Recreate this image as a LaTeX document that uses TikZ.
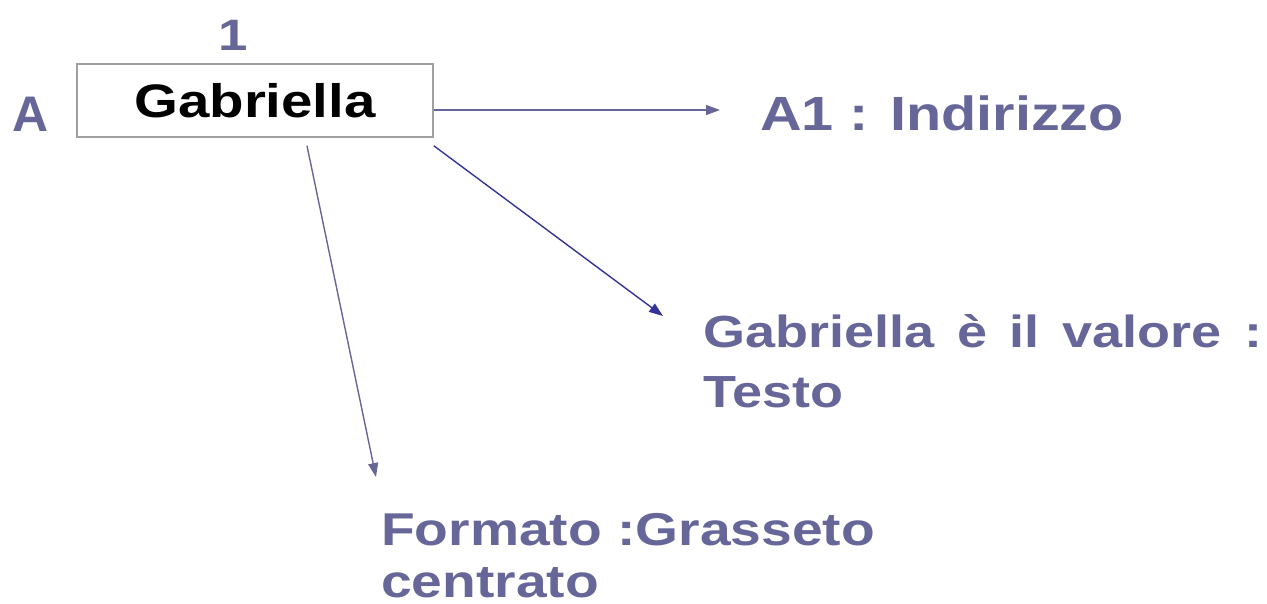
\documentclass[tikz,border=0pt]{standalone}
\usepackage{fontspec}
\setmainfont{Liberation Sans}
\newfontfamily\slidefont{Liberation Sans}[FakeStretch=1.2]
\usetikzlibrary{arrows.meta}
\definecolor{slate}{RGB}{102,102,153}
\definecolor{navy}{RGB}{51,51,153}
\definecolor{edge}{RGB}{160,160,160}
\begin{document}
\begin{tikzpicture}[
    x=1pt, y=-1pt,
    cell/.style={rectangle, draw=edge, line width=1.5pt, minimum width=356pt, minimum height=73pt, font=\slidefont\bfseries\fontsize{47}{56}\selectfont},
    note/.style={text=slate, inner sep=0pt, anchor=base west},
    link/.style={-{Triangle[length=14pt,width=10pt]}, line width=1.4pt, slate}
]
\useasboundingbox (0,0) rectangle (1267,603);

% cella
\node[cell] (cell) at (255,100.5) {Gabriella};

% riga e colonna
\node[note, anchor=base, font=\slidefont\bfseries\fontsize{44}{52}\selectfont] (col) at (233,50) {1};
\node[note, anchor=base, font=\bfseries\fontsize{50}{58}\selectfont] (row) at (30.5,131.7) {A};

% testi
\node[note, font=\slidefont\bfseries\fontsize{48}{56}\selectfont] (addr) at (760,130) {A1 : Indirizzo};
\node[note, text width=559pt, align=justify, font=\slidefont\bfseries\fontsize{45}{60}\selectfont] (value) at (703,347) {Gabriella è il valore : Testo};
\node[note, text width=520pt, align=left, font=\slidefont\bfseries\fontsize{46}{52}\selectfont] (format) at (381,545) {Formato :Grasseto\\centrato};

% punte
\coordinate (tipaddr) at (720,110);
\coordinate (tipvalue) at (663,316);
\coordinate (tipformat) at (376,477);

% frecce
\draw[link] (cell.east |- tipaddr) -- (tipaddr);
\draw[link, navy] ([yshift=-8pt]cell.south east) -- (tipvalue);
\draw[link] ([xshift=52pt, yshift=-8pt]cell.south) -- (tipformat);

\end{tikzpicture}
\end{document}
